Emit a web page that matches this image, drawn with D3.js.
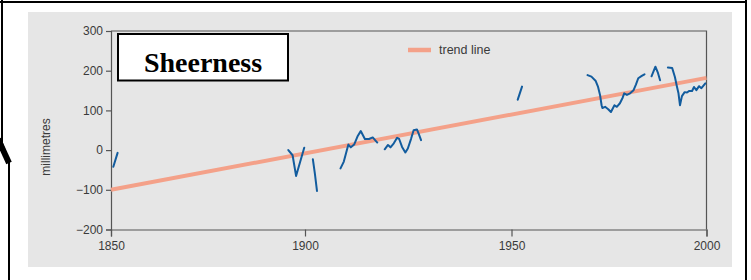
<!DOCTYPE html>
<html>
<head>
<meta charset="utf-8">
<script src="https://cdn.jsdelivr.net/npm/d3@7"></script>
<style>
  html, body { margin: 0; padding: 0; background: #ffffff; }
  svg { display: block; }
</style>
</head>
<body>
<svg id="chart" width="751" height="280"></svg>
<script>
// ---- data ----
const title = "Sheerness";
const yLabel = "millimetres";
const legendLabel = "trend line";
const xTicks = [1850, 1900, 1950, 2000];
const yTicks = [-200, -100, 0, 100, 200, 300];

// observed sea level (null = gap in the record)
const years = [
  1850.6, 1851.7, null,
  1895.7, 1896.8, 1897.7, 1899.8, null,
  1901.9, 1902.4, 1902.9, null,
  1908.6, 1909.4, 1910.5, 1911.1, 1911.9, 1912.7, 1913.5, 1914.5, 1915.5, 1916.4, 1917.5, null,
  1919.3, 1920.1, 1920.7, 1921.5, 1922.3, 1922.8, 1923.5, 1924.3, 1924.9, 1925.7, 1926.3, 1927.1, 1927.5, 1928.1, null,
  1951.6, 1952.7, null,
  1969.5, 1970.5, 1971.6, 1972.2, 1972.7, 1973.1, 1973.3, 1974.0, 1974.8, 1975.5, 1976.4, 1977.0, 1977.8, 1978.5, 1978.9, 1979.6, 1980.4, 1981.3, 1981.9, 1982.5, 1983.4, 1984.1, null,
  1985.9, 1986.9, 1987.5, 1988.1, null,
  1990.1, 1991.2, 1991.9, 1992.4, 1992.8, 1993.2, 1993.7, 1994.4, 1995.0, 1995.6, 1996.3, 1996.8, 1997.4, 1998.1, 1998.7, 1999.7
];
const sealevel = [
  -42, -7, null,
  0, -13, -65, 6, null,
  -23, -60, -103, null,
  -46, -29, 14, 7, 14, 34, 48, 28, 28, 32, 19, null,
  2, 13, 7, 17, 31, 28, 8, -6, 4, 29, 50, 52, 42, 25, null,
  127, 160, null,
  189, 185, 174, 159, 139, 113, 106, 109, 103, 96, 113, 109, 118, 132, 143, 139, 143, 151, 165, 181, 187, 191, null,
  186, 210, 196, 176, null,
  208, 207, 184, 161, 144, 113, 136, 146, 145, 149, 149, 159, 151, 161, 156, 168
];
const trendYears = [1850, 2000];
const trendValues = [-100, 182];

// ---- drawing ----
const svg = d3.select("#chart");
const blue = "#125c9e";
const salmon = "#f4a189";
const axisColor = "#555555";
const textColor = "#3a3a3a";

// outer frame lines
svg.append("path")
  .attr("d", "M2,0 L2,143 L9,162 L9,280")
  .attr("fill", "none").attr("stroke", "#000").attr("stroke-width", 2);
svg.append("line").attr("x1", -2).attr("y1", 139).attr("x2", 9).attr("y2", 163)
  .attr("stroke", "#000").attr("stroke-width", 6);
svg.append("line").attr("x1", 0).attr("y1", 2).attr("x2", 747).attr("y2", 2)
  .attr("stroke", "#000").attr("stroke-width", 2);
svg.append("line").attr("x1", 746).attr("y1", 0).attr("x2", 746).attr("y2", 280)
  .attr("stroke", "#000").attr("stroke-width", 2);

// gray panel
svg.append("rect").attr("x", 28).attr("y", 12).attr("width", 704).attr("height", 255)
  .attr("fill", "#e6e6e6");

const x = d3.scaleLinear().domain([1850, 1900, 1950, 2000]).range([111, 305, 511.5, 706.5]);
const y = d3.scaleLinear().domain([-200, 300]).range([229.5, 31]);

// plot frame (top and right)
svg.append("path")
  .attr("d", `M${x(1850)},${y(300)} L${x(2000)},${y(300)} L${x(2000)},${y(-200)}`)
  .attr("fill", "none").attr("stroke", axisColor).attr("stroke-width", 1.2);

// axes
const yAxis = svg.append("g").attr("transform", `translate(${x(1850)},0)`)
  .call(d3.axisLeft(y).tickValues(yTicks).tickSize(5).tickPadding(3).tickFormat(d3.format("d")));
const xAxis = svg.append("g").attr("transform", `translate(0,${y(-200)})`)
  .call(d3.axisBottom(x).tickValues(xTicks).tickSize(7).tickPadding(5).tickFormat(d3.format("d")));
[yAxis, xAxis].forEach(g => {
  g.select(".domain").attr("stroke", axisColor).attr("stroke-width", 1.2);
  g.selectAll(".tick line").attr("stroke", axisColor).attr("stroke-width", 1.2);
  g.selectAll(".tick text").attr("fill", textColor)
    .style("font-family", "'Liberation Sans', Arial, sans-serif").style("font-size", "12px");
});

// y label
svg.append("text")
  .attr("transform", "translate(50,147) rotate(-90)")
  .attr("text-anchor", "middle")
  .attr("fill", textColor)
  .style("font-family", "'Liberation Sans', Arial, sans-serif").style("font-size", "12px")
  .text(yLabel);

// trend line
const trendData = trendYears.map((d, i) => [d, trendValues[i]]);
svg.append("path")
  .datum(trendData)
  .attr("d", d3.line().x(d => x(d[0])).y(d => y(d[1])))
  .attr("fill", "none").attr("stroke", salmon).attr("stroke-width", 4);

// observed series
const obs = years.map((d, i) => [d, sealevel[i]]);
svg.append("path")
  .datum(obs)
  .attr("d", d3.line().defined(d => d[0] != null && d[1] != null)
    .x(d => x(d[0])).y(d => y(d[1])))
  .attr("fill", "none").attr("stroke", blue).attr("stroke-width", 2)
  .attr("stroke-linejoin", "round").attr("stroke-linecap", "round");

// legend
svg.append("line").attr("x1", 408).attr("x2", 431).attr("y1", 50).attr("y2", 50)
  .attr("stroke", salmon).attr("stroke-width", 4.5);
svg.append("text").attr("x", 439).attr("y", 50).attr("dy", "0.35em")
  .attr("fill", textColor)
  .style("font-family", "'Liberation Sans', Arial, sans-serif").style("font-size", "12.5px")
  .text(legendLabel);

// title box
svg.append("rect").attr("x", 118).attr("y", 34).attr("width", 170).attr("height", 46.5)
  .attr("fill", "#ffffff").attr("stroke", "#000").attr("stroke-width", 2);
svg.append("text").attr("x", 203).attr("y", 71.5).attr("text-anchor", "middle")
  .attr("fill", "#000")
  .style("font-family", "'Liberation Serif', 'Times New Roman', serif")
  .style("font-weight", "bold").style("font-size", "28px")
  .text(title);
</script>
</body>
</html>
